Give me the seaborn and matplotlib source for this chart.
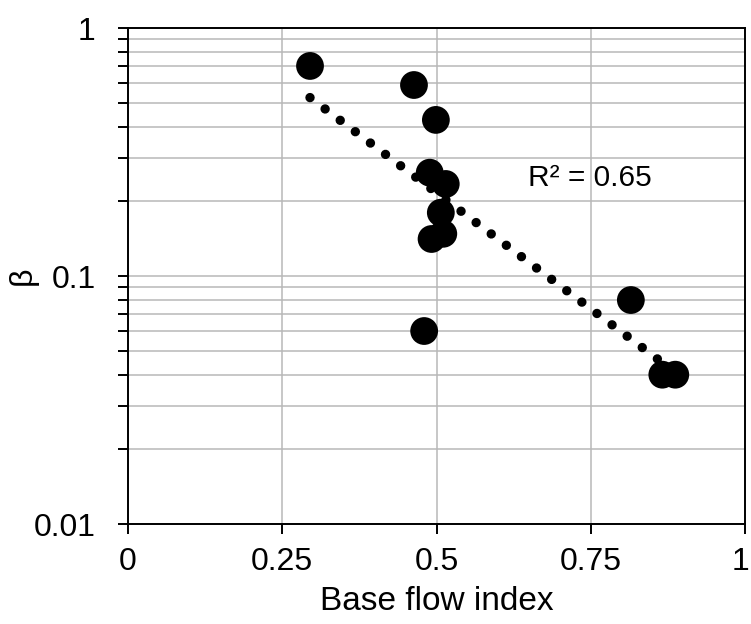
import numpy as np
import pandas as pd
import matplotlib
matplotlib.use('Agg')
import matplotlib.pyplot as plt
import matplotlib.transforms as mtransforms
import seaborn as sns
from matplotlib.ticker import LogLocator, FixedLocator, NullFormatter, FuncFormatter

# ── Data ──
bfi = [0.295, 0.4635, 0.499, 0.489, 0.515, 0.507, 0.511, 0.492, 0.480, 0.815, 0.866, 0.887]
beta = [0.703, 0.589, 0.426, 0.261, 0.235, 0.180, 0.148, 0.141, 0.060, 0.080, 0.040, 0.040]
x_ticks = [0, 0.25, 0.5, 0.75, 1]
y_ticks = [0.01, 0.1, 1]
r2_label = "R\u00b2 = 0.65"

df = pd.DataFrame({'bfi': bfi, 'beta': beta})

# ── Style ──
sns.set_theme(style="ticks")
plt.rcParams.update({
    'font.family': ['Liberation Sans', 'DejaVu Sans'],
    'axes.edgecolor': 'black',
    'axes.linewidth': 1.4,
    'axes.labelcolor': 'black',
    'text.color': 'black',
    'xtick.color': 'black',
    'ytick.color': 'black',
})

fig = plt.figure(figsize=(7.51, 6.24), dpi=100)
ax = fig.add_axes([128 / 751, 1 - 524 / 624, (745 - 128) / 751, (524 - 28) / 624])

# exponential trendline (least squares on log)
b, a = np.polyfit(df['bfi'], np.log(df['beta']), 1)
xs = np.linspace(df['bfi'].min(), df['bfi'].max(), 300)
ax.plot(xs, np.exp(a + b * xs), color='black', lw=6.8,
        linestyle=(0, (0.001, 2.0)), dash_capstyle='round', zorder=2)

sns.scatterplot(data=df, x='bfi', y='beta', ax=ax, s=400, color='black',
                edgecolor='none', linewidth=0, zorder=3)

ax.set_yscale('log')
ax.set_xlim(0, 1)
ax.set_ylim(0.01, 1)
ax.xaxis.set_major_locator(FixedLocator(x_ticks))
ax.xaxis.set_major_formatter(FuncFormatter(lambda v, p: f"{v:g}"))
ax.yaxis.set_major_locator(FixedLocator(y_ticks))
ax.yaxis.set_major_formatter(FuncFormatter(lambda v, p: f"{v:g}"))
ax.yaxis.set_minor_locator(LogLocator(base=10, subs=np.arange(2, 10)))
ax.yaxis.set_minor_formatter(NullFormatter())

ax.grid(which='major', color='#b8b8b8', lw=1.1)
ax.grid(which='minor', axis='y', color='#b8b8b8', lw=1.1)
ax.set_axisbelow(True)
for sp in ax.spines.values():
    sp.set_visible(True)
    sp.set_color('black')
    sp.set_zorder(5)

ax.tick_params(axis='both', which='major', direction='out', length=7.2, width=1.4,
               labelsize=23)
ax.tick_params(axis='x', which='major', pad=9)
ax.tick_params(axis='y', which='major', pad=16)
ax.tick_params(axis='y', which='minor', direction='out', length=7.2, width=1.4)

# keep the last x tick label inside the figure edge
last = ax.get_xticklabels()[-1]
last.set_transform(last.get_transform() +
                   mtransforms.ScaledTranslation(-5 / 100, 0, fig.dpi_scale_trans))

ax.set_xlabel('Base flow index', fontsize=24)
ax.set_ylabel('\u03b2', fontsize=23)
ax.xaxis.set_label_coords(0.5, -0.124)
ax.yaxis.set_label_coords(-0.146, 0.5)

ax.text(0.648, 0.248, r2_label, fontsize=21.5, ha='left', va='center')

fig.savefig('out.png', dpi=100)
